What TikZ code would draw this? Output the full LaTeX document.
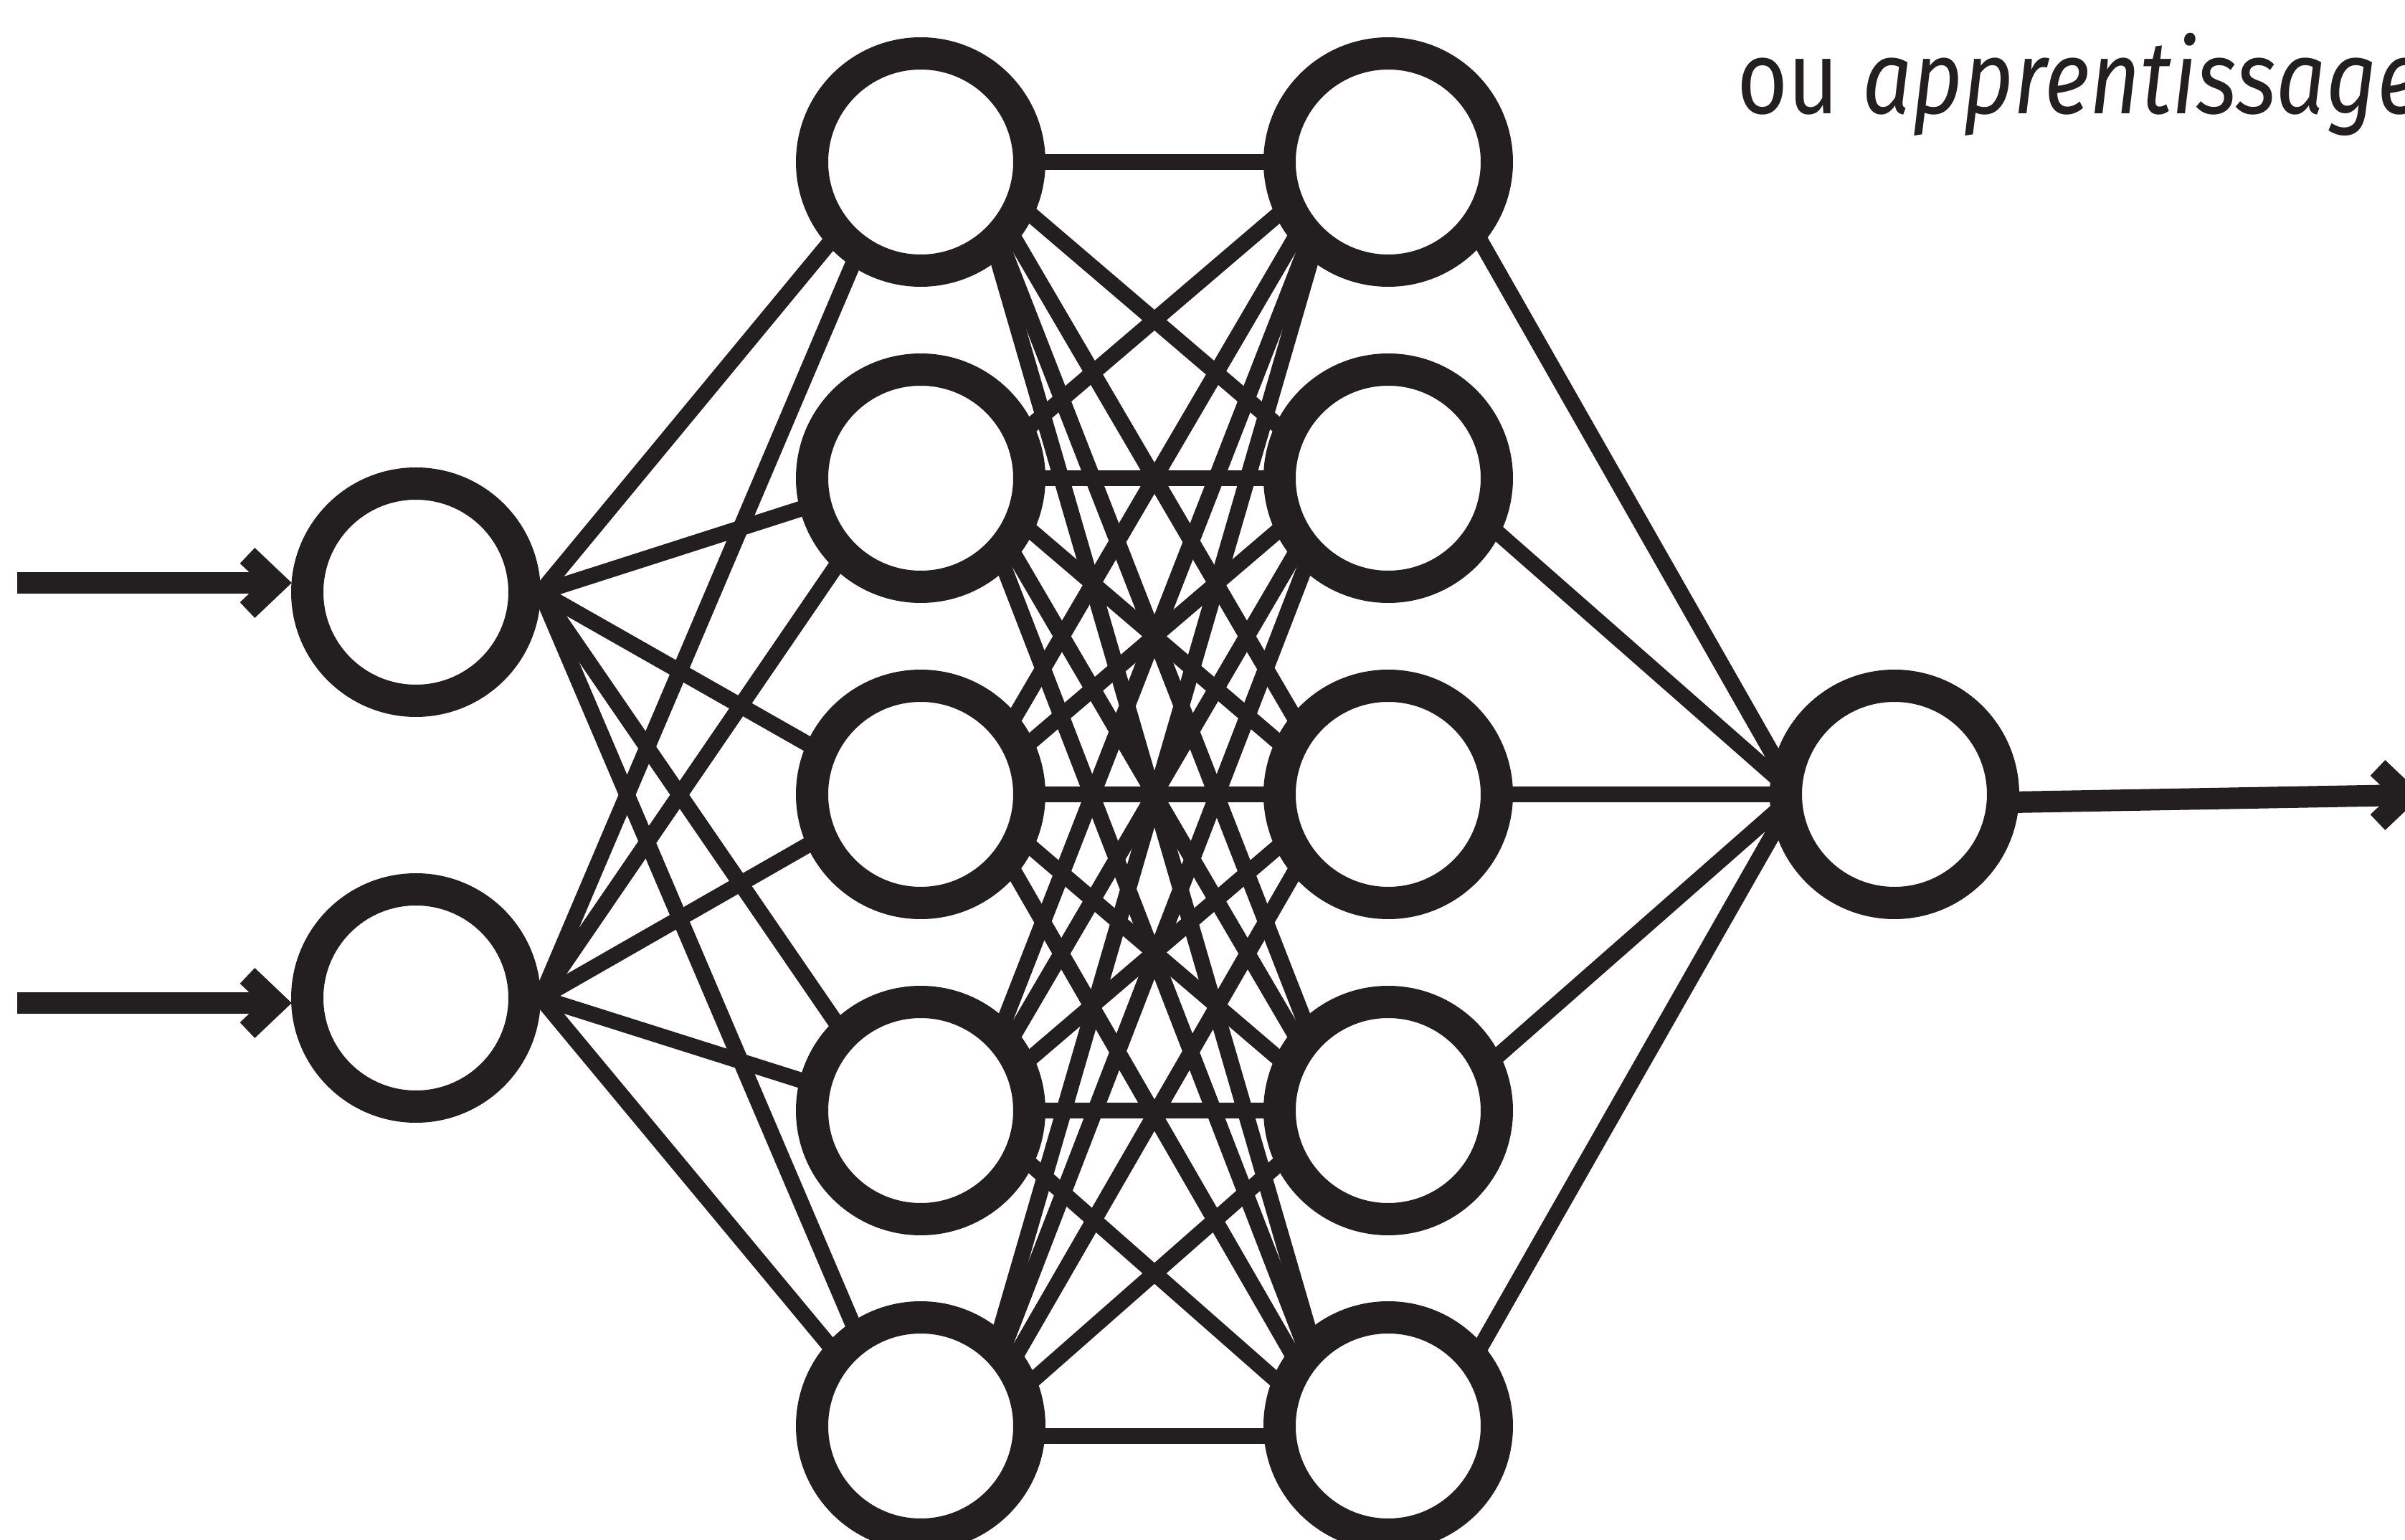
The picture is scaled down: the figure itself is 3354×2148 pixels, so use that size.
\documentclass[tikz,border=0pt]{standalone}
\usepackage{fontspec}
\newfontfamily\labelfont[FakeStretch=0.85]{Fira Sans}
\usetikzlibrary{calc}
\definecolor{ink}{HTML}{231F20}
\pgfdeclarelayer{edges}
\pgfsetlayers{edges,main}
\begin{document}
\begin{tikzpicture}[x=0.1pt,y=-0.1pt,
  neuron/.style={circle, draw=ink, line width=4.5pt, fill=white, minimum size=30.3pt, inner sep=0pt},
  link/.style={draw=ink, line width=2.2pt},
  shaft/.style={draw=ink, line width=3pt, line cap=butt},
  chev/.style={draw=ink, line width=3pt, line cap=butt, line join=miter, miter limit=10}]
\useasboundingbox (0,0) rectangle (3354,2148);
% input layer
\node[neuron] (i1) at (580,826) {};
\node[neuron] (i2) at (580,1392) {};
% hidden layer 1
\node[neuron] (a1) at (1284,226) {};
\node[neuron] (a2) at (1284,667) {};
\node[neuron] (a3) at (1284,1108) {};
\node[neuron] (a4) at (1284,1549) {};
\node[neuron] (a5) at (1284,1989) {};
% hidden layer 2
\node[neuron] (b1) at (1936,226) {};
\node[neuron] (b2) at (1936,667) {};
\node[neuron] (b3) at (1936,1108) {};
\node[neuron] (b4) at (1936,1549) {};
\node[neuron] (b5) at (1936,1989) {};
% output
\node[neuron] (o) at (2642,1108) {};
% free ends of arrows
\coordinate (s1) at (24,813);
\coordinate (t1) at (385,813);
\coordinate (s2) at (24,1399);
\coordinate (t2) at (385,1399);
\coordinate (t3) at (3356,1109);
\begin{pgfonlayer}{edges}
\foreach \j/\dj in {1/0,2/0,3/0,4/0,5/14} {
  \draw[link] (i1.east) -- ($(a\j)+(-34,0)$);
  \draw[link] (i2.east) -- ($(a\j)+(-34,0)$);
  \draw[link] ($(b\j)+(66,0)$) -- ($(o)+(-138,0)$);
  \foreach \k/\dk in {1/0,2/0,3/0,4/0,5/14} {
    \draw[link] ($(a\j)+(68,\dj)$) -- ($(b\k)+(-68,\dk)$);
  }
}
\draw[shaft] ($(o)+(0,14)$) -- (t3);
\end{pgfonlayer}
% input arrows
\draw[shaft] (s1) -- (t1);
\draw[chev] ($(t1)+(-40,-38)$) -- (t1) -- ($(t1)+(-40,38)$);
\draw[shaft] (s2) -- (t2);
\draw[chev] ($(t2)+(-40,-38)$) -- (t2) -- ($(t2)+(-40,38)$);
% output arrow head
\draw[chev] ($(t3)+(-40,-38)$) -- (t3) -- ($(t3)+(-40,38)$);
% label
\node[anchor=base west, inner sep=0pt, text=ink] (lbl) at (2420,159)
  {\labelfont\fontsize{14.4pt}{16pt}\selectfont ou \textit{apprentissage}};
\end{tikzpicture}
\end{document}
